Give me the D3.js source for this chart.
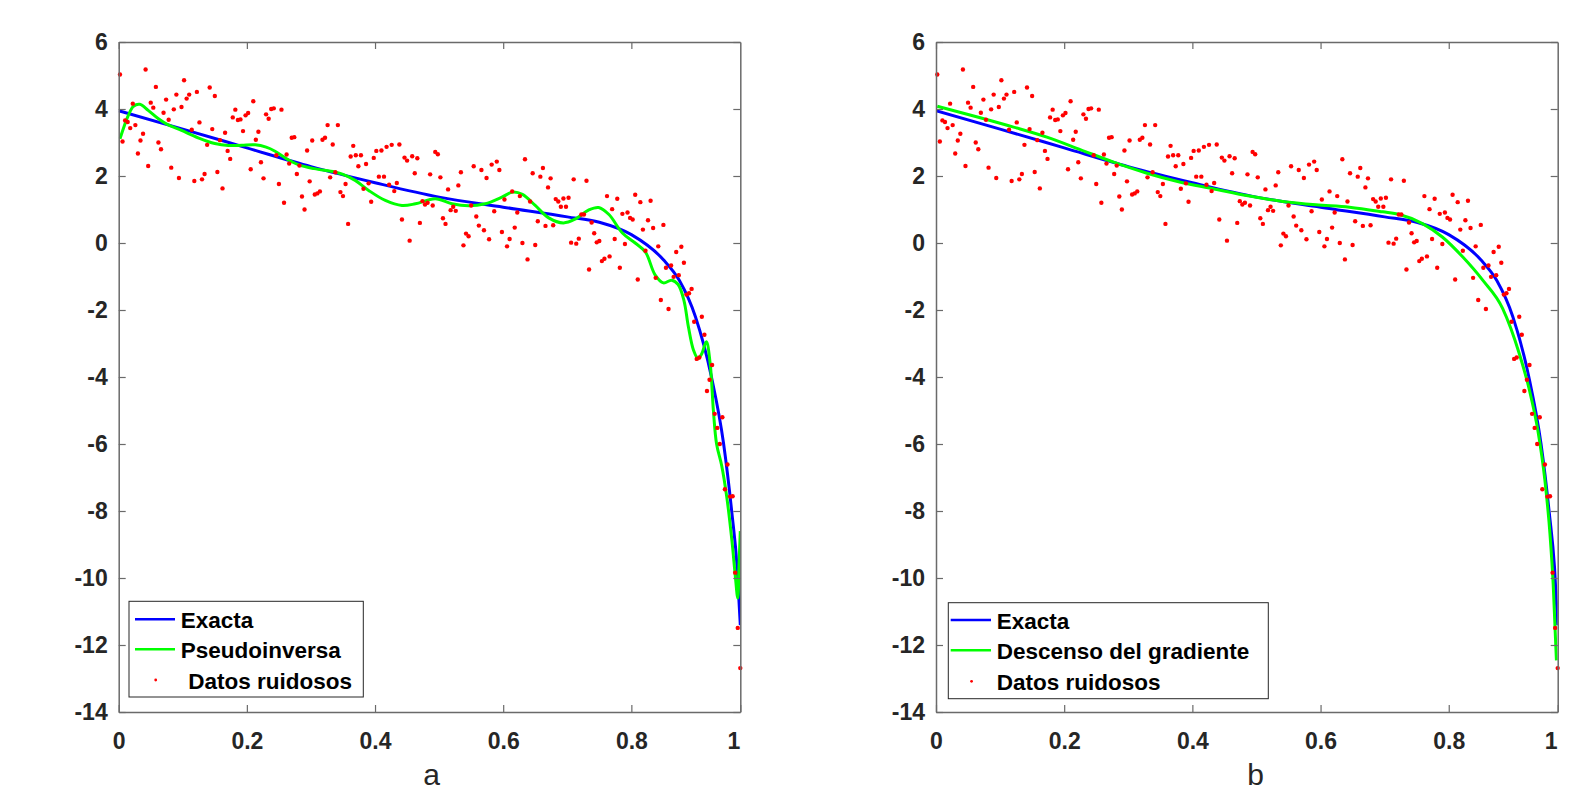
<!DOCTYPE html>
<html>
<head>
<meta charset="utf-8">
<script src="https://cdn.jsdelivr.net/npm/d3@7"></script>
<style>
  body { margin: 0; background: #fff; }
  text { font-family: "Liberation Sans", Arial, Helvetica, sans-serif; }
</style>
</head>
<body>
<div id="chart"></div>
<script>
// Noisy samples, evenly spaced in x (first sample, step)
const noisyX0 = 0.002;
const noisyStep = 0.004;
const noisyY = [
  5.03, 3.03, 3.66, 3.61, 3.43, 4.16, 3.52, 2.67, 3.06, 3.26,
  5.18, 2.30, 4.19, 4.04, 4.66, 3.00, 2.80, 3.89, 4.28, 3.68,
  2.25, 3.99, 4.43, 1.94, 4.06, 4.86, 4.31, 4.43, 3.38, 1.85,
  4.51, 3.60, 1.90, 2.06, 2.93, 4.64, 3.40, 4.39, 2.12, 3.07,
  1.63, 3.29, 2.75, 2.51, 3.75, 3.98, 3.67, 3.69, 3.34, 3.81,
  3.88, 2.20, 4.23, 3.08, 3.32, 2.41, 1.93, 3.84, 3.71, 4.00,
  4.02, 2.62, 1.76, 3.98, 1.20, 2.64, 2.37, 3.14, 3.16, 2.06,
  2.31, 1.39, 1.00, 2.76, 1.84, 3.06, 1.45, 1.48, 1.54, 3.08,
  3.14, 3.52, 1.96, 2.94, 2.11, 3.52, 1.52, 1.40, 1.76, 0.57,
  2.58, 2.90, 2.62, 2.29, 2.62, 1.62, 2.36, 1.78, 1.23, 2.54,
  2.75, 1.98, 2.76, 1.98, 2.87, 1.74, 2.93, 1.55, 1.79, 2.94,
  0.70, 2.55, 2.46, 0.07, 2.59, 2.08, 2.53, 0.60, 1.25, 1.15,
  1.20, 2.05, 1.12, 2.72, 2.65, 1.96, 0.74, 0.57, 1.60, 0.98,
  1.08, 0.96, 1.72, 2.11, -0.07, 0.28, 0.20, 1.12, 2.29, 0.79,
  0.52, 2.18, 0.38, 1.94, 0.11, 2.34, 0.95, 2.43, 2.18, 0.33,
  1.30, -0.10, 0.12, 1.54, 0.46, 0.91, 1.40, 0.00, 2.50, -0.49,
  1.24, 2.08, -0.06, 0.65, 1.98, 2.24, 0.51, 1.66, 1.93, 0.53,
  1.31, 1.24, 1.08, 1.33, 1.08, 1.35, 0.01, 1.90, -0.02, 0.13,
  0.85, 0.85, 1.86, -0.79, 0.61, 0.29, 0.02, 0.06, -0.54, -0.47,
  1.40, -0.40, 1.01, 0.12, 1.32, -0.74, 0.87, -0.03, 0.91, 0.75,
  0.70, 1.44, -1.09, 1.22, 0.40, -0.23, 0.68, 1.26, 0.45, -1.04,
  -0.10, -1.70, 0.54, -0.74, -1.97, -0.67, -1.01, -0.27, -0.96, -0.11,
  -0.59, -1.54, -1.50, -1.37, -2.35, -3.46, -3.42, -2.20, -2.74, -4.42,
  -4.08, -3.64, -5.10, -5.52, -6.00, -5.20, -7.35, -6.61, -7.57, -7.56,
  -9.84, -11.49, -12.69
];

// Exact solution (blue)
const exactX = [0, 0.1, 0.2, 0.3, 0.4, 0.5, 0.6, 0.7, 0.75, 0.8, 0.85, 0.875, 0.9, 0.925, 0.944, 0.957, 0.965, 0.97];
const exactY = [3.95, 3.40, 2.84, 2.28, 1.80, 1.37, 1.07, 0.78, 0.62, 0.25, -0.50, -1.12, -2.20, -4.00, -6.00, -8.08, -9.67, -11.41];

// Pseudoinversa fit (green, panel a)
const pseudoX = [0.002, 0.015, 0.023, 0.033, 0.046, 0.062, 0.075, 0.098, 0.124, 0.150, 0.171, 0.192, 0.213, 0.230,
  0.244, 0.265, 0.281, 0.305, 0.337, 0.350, 0.369, 0.390, 0.416, 0.442, 0.463, 0.494, 0.520, 0.546, 0.572,
  0.598, 0.615, 0.630, 0.650, 0.671, 0.694, 0.713, 0.733, 0.749, 0.765, 0.786, 0.806, 0.822, 0.837, 0.850,
  0.863, 0.873, 0.882, 0.889, 0.897, 0.904, 0.910, 0.917, 0.923, 0.928, 0.933, 0.941, 0.949, 0.957, 0.962,
  0.966, 0.968, 0.970];
const pseudoY = [3.11, 3.81, 4.08, 4.14, 3.96, 3.71, 3.55, 3.36, 3.14, 2.97, 2.91, 2.92, 2.93, 2.86,
  2.74, 2.48, 2.33, 2.22, 2.12, 2.05, 1.87, 1.57, 1.27, 1.12, 1.17, 1.32, 1.17, 1.11, 1.17,
  1.37, 1.52, 1.45, 1.12, 0.75, 0.60, 0.72, 0.98, 1.06, 0.85, 0.30, 0.00, -0.27, -0.95, -1.19,
  -1.11, -1.24, -1.71, -2.50, -3.20, -3.45, -3.30, -2.95, -3.60, -5.00, -6.00, -6.65, -7.60, -8.90, -9.90,
  -10.60, -9.60, -8.60];

// Descenso del gradiente fit (green, panel b)
const gradX = [0.002, 0.069, 0.121, 0.173, 0.225, 0.276, 0.328, 0.380, 0.432, 0.489, 0.541, 0.593, 0.645, 0.697,
  0.723, 0.759, 0.790, 0.822, 0.853, 0.884, 0.910, 0.926, 0.939, 0.950, 0.958, 0.963, 0.968];
const gradY = [4.08, 3.74, 3.46, 3.16, 2.79, 2.42, 2.09, 1.82, 1.62, 1.40, 1.24, 1.14, 1.07, 0.93,
  0.85, 0.58, 0.18, -0.42, -1.11, -1.95, -3.30, -4.40, -5.59, -7.08, -8.70, -10.20, -12.46];

const xTicks = [0, 0.2, 0.4, 0.6, 0.8];
const xEndLabel = "1";
const yTicks = [-14, -12, -10, -8, -6, -4, -2, 0, 2, 4, 6];
const xMax = 0.97;

const panels = [
  { left: 118.7, right: 740.3, label: "a", labelX: 431.7, fitX: pseudoX, fitY: pseudoY, fitCurve: d3.curveCatmullRom.alpha(0.5),
    legend: { x: 129, y: 601.3, w: 234.3, h: 95.7, lineX: 135, lineW: 40, textX: 180.7, dotTextX: 188.3,
              rows: [619.3, 649.3, 680], names: ["Exacta", "Pseudoinversa", "Datos ruidosos"] } },
  { left: 936, right: 1557.7, label: "b", labelX: 1255.5, fitX: gradX, fitY: gradY, fitCurve: d3.curveMonotoneX,
    legend: { x: 948.3, y: 602.7, w: 320, h: 96, lineX: 950.7, lineW: 40.3, textX: 996.7, dotTextX: 996.7,
              rows: [620, 650.3, 681.3], names: ["Exacta", "Descenso del gradiente", "Datos ruidosos"] } }
];

const width = 1576, height = 791;
const plotTop = 42, plotBottom = 712;
const axisColor = "#6a6a6a";
const textColor = "#262626";

const svg = d3.select("#chart").append("svg")
  .attr("width", width)
  .attr("height", height)
  .style("display", "block")
  .style("background", "#fff");

const y = d3.scaleLinear().domain([-14, 6]).range([plotBottom, plotTop]);
const noisy = noisyY.map((v, i) => ({ x: noisyX0 + i * noisyStep, y: v }));
const exact = exactX.map((v, i) => ({ x: v, y: exactY[i] }));

panels.forEach(p => {
  const x = d3.scaleLinear().domain([0, xMax]).range([p.left, p.right]);
  const g = svg.append("g");

  const clipId = "clip-" + p.label;
  svg.append("clipPath").attr("id", clipId)
    .append("rect")
    .attr("x", p.left).attr("y", plotTop)
    .attr("width", p.right - p.left).attr("height", plotBottom - plotTop);

  const plot = g.append("g").attr("clip-path", "url(#" + clipId + ")");

  plot.append("path")
    .datum(exact)
    .attr("fill", "none")
    .attr("stroke", "#0000ff")
    .attr("stroke-width", 3)
    .attr("d", d3.line().x(d => x(d.x)).y(d => y(d.y)).curve(d3.curveMonotoneX));

  const fit = p.fitX.map((v, i) => ({ x: v, y: p.fitY[i] }));
  plot.append("path")
    .datum(fit)
    .attr("fill", "none")
    .attr("stroke", "#00ff00")
    .attr("stroke-width", 3)
    .attr("d", d3.line().x(d => x(d.x)).y(d => y(d.y)).curve(p.fitCurve));

  g.selectAll("circle.noisy")
    .data(noisy)
    .join("circle")
    .attr("class", "noisy")
    .attr("cx", d => x(d.x))
    .attr("cy", d => y(d.y))
    .attr("r", 2.2)
    .attr("fill", "#ff0000");

  // axes (ticks pointing inward, box on all four sides)
  const xAxis = d3.axisBottom(x)
    .tickValues(xTicks.concat([xMax]))
    .tickSize(-7).tickSizeOuter(0).tickPadding(21)
    .tickFormat(d => d === xMax ? xEndLabel : String(d));
  const gx = g.append("g").attr("transform", `translate(0,${plotBottom})`).call(xAxis);
  gx.selectAll(".tick").filter(d => d === xMax).select("text").attr("x", -7);

  const gxTop = g.append("g").attr("transform", `translate(0,${plotTop})`)
    .call(d3.axisTop(x).tickValues(xTicks).tickSize(-7).tickSizeOuter(0).tickFormat(""));

  const gy = g.append("g").attr("transform", `translate(${p.left},0)`)
    .call(d3.axisLeft(y).tickValues(yTicks).tickSize(-7).tickSizeOuter(0).tickPadding(11)
      .tickFormat(d => String(d)));

  const gyRight = g.append("g").attr("transform", `translate(${p.right},0)`)
    .call(d3.axisRight(y).tickValues(yTicks).tickSize(-7).tickSizeOuter(0).tickFormat(""));

  [gx, gxTop, gy, gyRight].forEach(a => {
    a.select(".domain").attr("stroke", axisColor).attr("stroke-width", 1.5);
    a.selectAll(".tick line").attr("stroke", axisColor).attr("stroke-width", 1.2);
    a.selectAll(".tick text")
      .attr("fill", textColor)
      .style("font-size", "23px")
      .style("font-weight", "bold")
      .style("font-family", '"Liberation Sans", Arial, sans-serif');
  });

  // legend
  const L = p.legend;
  const lg = g.append("g");
  lg.append("rect")
    .attr("x", L.x).attr("y", L.y)
    .attr("width", L.w).attr("height", L.h)
    .attr("fill", "#fff")
    .attr("stroke", "#262626")
    .attr("stroke-width", 1);

  const swatches = ["#0000ff", "#00ff00"];
  swatches.forEach((c, i) => {
    lg.append("line")
      .attr("x1", L.lineX).attr("x2", L.lineX + L.lineW)
      .attr("y1", L.rows[i]).attr("y2", L.rows[i])
      .attr("stroke", c).attr("stroke-width", 2.5);
  });
  lg.append("circle")
    .attr("cx", L.lineX + L.lineW / 2 + 0.7)
    .attr("cy", L.rows[2])
    .attr("r", 1.4)
    .attr("fill", "#ff0000");

  L.names.forEach((n, i) => {
    lg.append("text")
      .attr("x", i === 2 ? L.dotTextX : L.textX)
      .attr("y", L.rows[i] + 1.5)
      .attr("dominant-baseline", "central")
      .style("font-size", "22.5px")
      .style("font-weight", "bold")
      .attr("fill", "#000")
      .text(n);
  });

  // panel letter
  g.append("text")
    .attr("x", p.labelX)
    .attr("y", 785)
    .attr("text-anchor", "middle")
    .style("font-size", "30px")
    .attr("fill", textColor)
    .text(p.label);
});
</script>
</body>
</html>
